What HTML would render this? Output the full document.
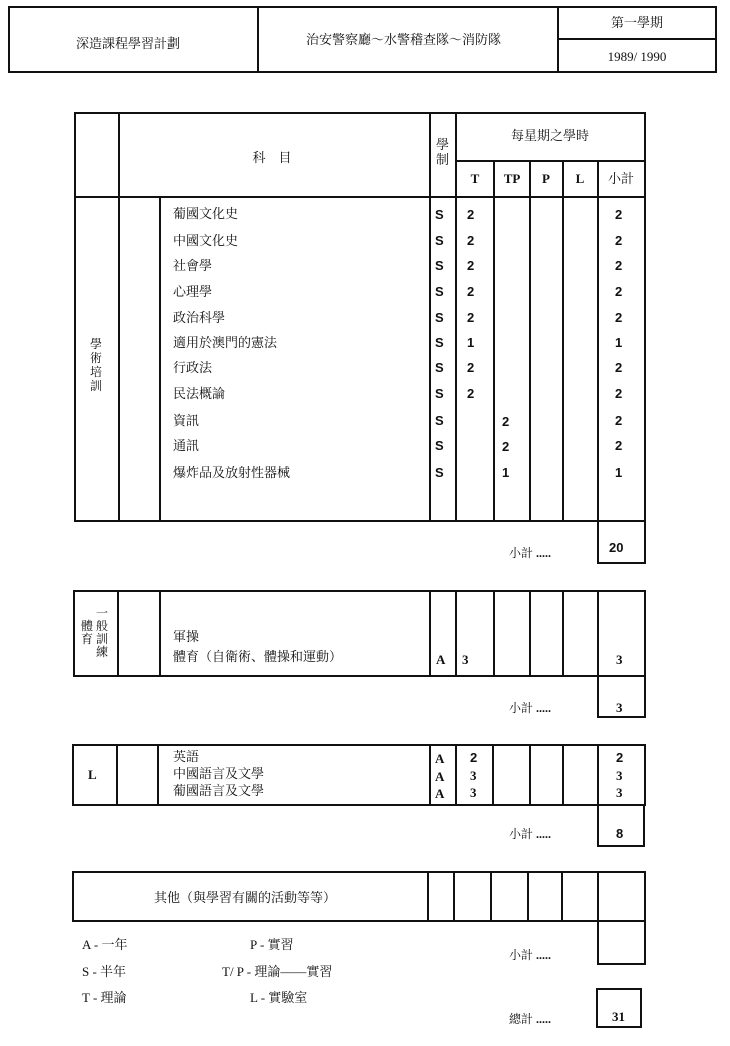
<!DOCTYPE html>
<html><head><meta charset="utf-8"><style>
body{margin:0;width:730px;height:1046px;background:#fff;position:relative;overflow:hidden;font-family:"Liberation Serif","Noto Serif CJK SC","Noto Sans CJK TC",serif;color:#111}
.b{position:absolute;border:2px solid #111;box-sizing:border-box}
.h{position:absolute;height:2px;background:#111}
.v{position:absolute;width:2px;background:#111}
.t{position:absolute;font-size:13px;line-height:16px;white-space:nowrap}
.c{transform:translateX(-50%)}
.s{font-family:"Liberation Sans","Noto Sans CJK TC",sans-serif;font-weight:bold;font-size:13px}
</style></head><body>
<!-- header -->
<div class="b" style="left:8px;top:6px;width:709px;height:67px"></div>
<div class="v" style="left:257px;top:6px;height:67px"></div>
<div class="v" style="left:557px;top:6px;height:67px"></div>
<div class="h" style="left:557px;top:38px;width:160px"></div>
<div class="t" style="left:76px;top:36px">深造課程學習計劃</div>
<div class="t" style="left:306px;top:32px">治安警察廳～水警稽查隊～消防隊</div>
<div class="t c" style="left:637px;top:15px">第一學期</div>
<div class="t c" style="left:637px;top:49px">1989/ 1990</div>

<!-- main table -->
<div class="b" style="left:74px;top:112px;width:572px;height:410px"></div>
<div class="v" style="left:118px;top:112px;height:410px"></div>
<div class="v" style="left:159px;top:197px;height:325px"></div>
<div class="v" style="left:429px;top:112px;height:410px"></div>
<div class="v" style="left:455px;top:112px;height:410px"></div>
<div class="v" style="left:493px;top:160px;height:362px"></div>
<div class="v" style="left:529px;top:160px;height:362px"></div>
<div class="v" style="left:562px;top:160px;height:362px"></div>
<div class="v" style="left:597px;top:160px;height:362px"></div>
<div class="h" style="left:455px;top:160px;width:191px"></div>
<div class="h" style="left:74px;top:196px;width:572px"></div>
<div class="t c" style="left:272px;top:150px">科　目</div>
<div class="t" style="left:436px;top:137px;width:14px;white-space:normal;line-height:15px">學制</div>
<div class="t c" style="left:550px;top:128px">每星期之學時</div>
<div class="t c s" style="left:475px;top:171px;font-family:'Liberation Serif',serif">T</div>
<div class="t c s" style="left:512px;top:171px;font-family:'Liberation Serif',serif">TP</div>
<div class="t c s" style="left:546px;top:171px;font-family:'Liberation Serif',serif">P</div>
<div class="t c s" style="left:580px;top:171px;font-family:'Liberation Serif',serif">L</div>
<div class="t c" style="left:621px;top:171px">小計</div>
<div class="t" style="left:90px;top:337px;width:14px;white-space:normal;line-height:14px;font-size:12px">學術培訓</div>

<div class="t" style="left:173px;top:206px">葡國文化史</div><div class="t s" style="left:435px;top:207px">S</div><div class="t s" style="left:467px;top:207px">2</div><div class="t s" style="left:615px;top:207px">2</div>
<div class="t" style="left:173px;top:233px">中國文化史</div><div class="t s" style="left:435px;top:233px">S</div><div class="t s" style="left:467px;top:233px">2</div><div class="t s" style="left:615px;top:233px">2</div>
<div class="t" style="left:173px;top:258px">社會學</div><div class="t s" style="left:435px;top:258px">S</div><div class="t s" style="left:467px;top:258px">2</div><div class="t s" style="left:615px;top:258px">2</div>
<div class="t" style="left:173px;top:284px">心理學</div><div class="t s" style="left:435px;top:284px">S</div><div class="t s" style="left:467px;top:284px">2</div><div class="t s" style="left:615px;top:284px">2</div>
<div class="t" style="left:173px;top:310px">政治科學</div><div class="t s" style="left:435px;top:310px">S</div><div class="t s" style="left:467px;top:310px">2</div><div class="t s" style="left:615px;top:310px">2</div>
<div class="t" style="left:173px;top:335px">適用於澳門的憲法</div><div class="t s" style="left:435px;top:335px">S</div><div class="t s" style="left:467px;top:335px">1</div><div class="t s" style="left:615px;top:335px">1</div>
<div class="t" style="left:173px;top:360px">行政法</div><div class="t s" style="left:435px;top:360px">S</div><div class="t s" style="left:467px;top:360px">2</div><div class="t s" style="left:615px;top:360px">2</div>
<div class="t" style="left:173px;top:386px">民法概論</div><div class="t s" style="left:435px;top:386px">S</div><div class="t s" style="left:467px;top:386px">2</div><div class="t s" style="left:615px;top:386px">2</div>
<div class="t" style="left:173px;top:413px">資訊</div><div class="t s" style="left:435px;top:413px">S</div><div class="t s" style="left:502px;top:414px">2</div><div class="t s" style="left:615px;top:413px">2</div>
<div class="t" style="left:173px;top:438px">通訊</div><div class="t s" style="left:435px;top:438px">S</div><div class="t s" style="left:502px;top:439px">2</div><div class="t s" style="left:615px;top:438px">2</div>
<div class="t" style="left:173px;top:465px">爆炸品及放射性器械</div><div class="t s" style="left:435px;top:465px">S</div><div class="t s" style="left:502px;top:465px">1</div><div class="t s" style="left:615px;top:465px">1</div>

<div class="b" style="left:597px;top:520px;width:49px;height:44px"></div>
<div class="t" style="left:509px;top:545px;font-size:12px">小計 <b>.....</b></div>
<div class="t s" style="left:609px;top:540px">20</div>

<!-- section 2 -->
<div class="b" style="left:73px;top:590px;width:573px;height:87px"></div>
<div class="v" style="left:117px;top:590px;height:87px"></div>
<div class="v" style="left:159px;top:590px;height:87px"></div>
<div class="v" style="left:429px;top:590px;height:87px"></div>
<div class="v" style="left:455px;top:590px;height:87px"></div>
<div class="v" style="left:493px;top:590px;height:87px"></div>
<div class="v" style="left:529px;top:590px;height:87px"></div>
<div class="v" style="left:562px;top:590px;height:87px"></div>
<div class="v" style="left:597px;top:590px;height:87px"></div>
<div class="t" style="left:96px;top:607px;width:14px;white-space:normal;line-height:13px;font-size:12px">一般訓練</div>
<div class="t" style="left:81px;top:620px;width:14px;white-space:normal;line-height:13px;font-size:12px">體育</div>
<div class="t" style="left:173px;top:629px">軍操</div>
<div class="t" style="left:173px;top:649px">體育（自衛術、體操和運動）</div>
<div class="t s" style="left:436px;top:652px;font-family:'Liberation Serif',serif">A</div>
<div class="t s" style="left:462px;top:652px;font-family:'Liberation Serif',serif">3</div>
<div class="t s" style="left:616px;top:652px;font-family:'Liberation Serif',serif">3</div>
<div class="b" style="left:597px;top:675px;width:49px;height:43px"></div>
<div class="t" style="left:509px;top:700px;font-size:12px">小計 <b>.....</b></div>
<div class="t s" style="left:616px;top:700px;font-family:'Liberation Serif',serif">3</div>

<!-- section 3 -->
<div class="b" style="left:72px;top:744px;width:574px;height:62px"></div>
<div class="v" style="left:116px;top:744px;height:62px"></div>
<div class="v" style="left:157px;top:744px;height:62px"></div>
<div class="v" style="left:429px;top:744px;height:62px"></div>
<div class="v" style="left:455px;top:744px;height:62px"></div>
<div class="v" style="left:492px;top:744px;height:62px"></div>
<div class="v" style="left:529px;top:744px;height:62px"></div>
<div class="v" style="left:562px;top:744px;height:62px"></div>
<div class="v" style="left:597px;top:744px;height:62px"></div>
<div class="t s" style="left:88px;top:767px;font-family:'Liberation Serif',serif">L</div>
<div class="t" style="left:173px;top:749px">英語</div>
<div class="t" style="left:173px;top:766px">中國語言及文學</div>
<div class="t" style="left:173px;top:783px">葡國語言及文學</div>
<div class="t s" style="left:435px;top:751px;font-family:'Liberation Serif',serif">A</div>
<div class="t s" style="left:435px;top:769px;font-family:'Liberation Serif',serif">A</div>
<div class="t s" style="left:435px;top:786px;font-family:'Liberation Serif',serif">A</div>
<div class="t s" style="left:470px;top:750px">2</div>
<div class="t s" style="left:470px;top:768px;font-family:'Liberation Serif',serif">3</div>
<div class="t s" style="left:470px;top:785px;font-family:'Liberation Serif',serif">3</div>
<div class="t s" style="left:616px;top:750px">2</div>
<div class="t s" style="left:616px;top:768px;font-family:'Liberation Serif',serif">3</div>
<div class="t s" style="left:616px;top:785px;font-family:'Liberation Serif',serif">3</div>
<div class="b" style="left:597px;top:804px;width:48px;height:43px"></div>
<div class="t" style="left:509px;top:826px;font-size:12px">小計 <b>.....</b></div>
<div class="t s" style="left:616px;top:826px">8</div>

<!-- section 4 -->
<div class="b" style="left:72px;top:871px;width:574px;height:51px"></div>
<div class="v" style="left:427px;top:871px;height:51px"></div>
<div class="v" style="left:453px;top:871px;height:51px"></div>
<div class="v" style="left:490px;top:871px;height:51px"></div>
<div class="v" style="left:527px;top:871px;height:51px"></div>
<div class="v" style="left:561px;top:871px;height:51px"></div>
<div class="v" style="left:597px;top:871px;height:51px"></div>
<div class="t" style="left:154px;top:890px">其他（與學習有關的活動等等）</div>
<div class="b" style="left:597px;top:920px;width:49px;height:45px"></div>
<div class="t" style="left:509px;top:947px;font-size:12px">小計 <b>.....</b></div>

<div class="t" style="left:82px;top:937px">A - 一年</div>
<div class="t" style="left:82px;top:964px">S - 半年</div>
<div class="t" style="left:82px;top:990px">T - 理論</div>
<div class="t" style="left:250px;top:937px">P - 實習</div>
<div class="t" style="left:222px;top:964px">T/ P - 理論——實習</div>
<div class="t" style="left:250px;top:990px">L - 實驗室</div>

<div class="b" style="left:596px;top:988px;width:46px;height:40px"></div>
<div class="t" style="left:509px;top:1011px;font-size:12px">總計 <b>.....</b></div>
<div class="t s" style="left:612px;top:1009px;font-family:'Liberation Serif',serif">31</div>
</body></html>
